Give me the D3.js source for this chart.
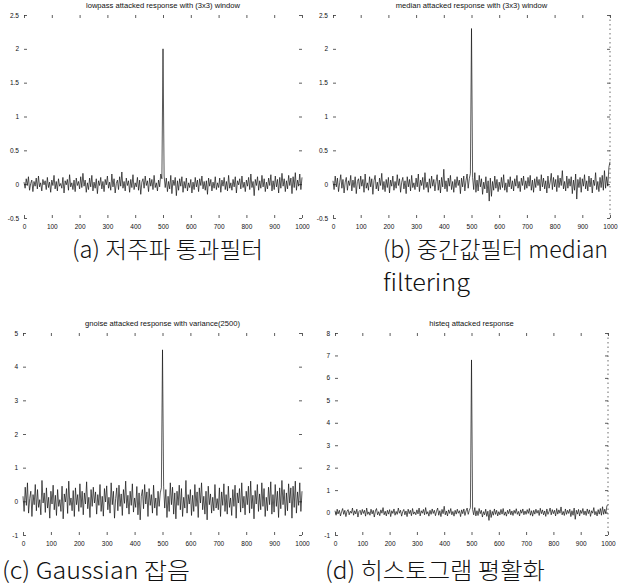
<!DOCTYPE html>
<html>
<head>
<meta charset="utf-8">
<script src="https://cdn.jsdelivr.net/npm/d3@7"></script>
<style>
body { margin: 0; background: #fff; }
svg { display: block; }
.tick-label { font-family: "Liberation Sans", Arial, sans-serif; font-size: 6.5px; fill: #111; }
.title { font-family: "Liberation Sans", Arial, sans-serif; font-size: 7.6px; fill: #111; }
.caption { font-family: "Noto Sans CJK KR", "Liberation Sans Narrow", sans-serif; font-size: 23px; font-weight: 300; fill: #111; }
</style>
</head>
<body>
<script>
var width = 630, height = 586;

// detector response samples, x = 0,4,8,...,1000 (peak at 500)
var lowpassResp = [
.03,-.06,.08,-.02,.11,-.09,.01,.06,-.11,.04,-.03,.09,-.07,.12,-.04,.02,-.1,.07,-.01,.05,-.08,.1,-.05,.03,-.12,
.06,-.02,.13,-.07,.04,-.1,.08,-.03,.01,-.06,.1,-.13,.05,-.01,.07,-.09,.14,-.04,.02,-.08,.06,-.11,.09,-.02,.04,
-.07,.11,-.05,.16,-.03,.06,-.12,.02,-.08,.09,-.04,.13,-.1,.03,-.06,.08,-.14,.05,-.02,.1,-.07,.04,-.11,.07,-.01,
.12,-.06,.03,-.09,.15,-.04,.08,-.13,.01,.06,-.08,.11,-.03,.18,-.06,.04,-.1,.09,-.02,.05,-.12,.07,-.05,.14,-.08,
.02,-.04,.1,-.09,.06,-.15,.03,.08,-.06,.12,-.02,.05,-.11,.09,-.03,.07,-.08,.13,-.05,.02,-.1,.06,-.04,.15,.08,
2.0,.12,-.05,.09,-.11,.04,-.07,.13,-.14,.06,-.02,.1,-.17,.05,-.09,.08,-.03,.11,-.12,.04,-.06,.09,-.1,.02,-.05,
.07,-.13,.03,-.08,.1,-.04,.06,-.11,.08,-.02,.12,-.07,.04,-.09,.05,-.15,.09,-.03,.07,-.1,.03,-.06,.11,-.08,.02,
-.05,.09,-.12,.06,-.03,.1,-.08,.04,-.1,.13,-.06,.02,-.09,.07,-.04,.11,-.13,.05,-.01,.08,-.07,.12,-.05,.03,-.11,
.06,-.03,.1,-.08,.15,-.05,.04,-.17,.07,-.02,.11,-.09,.05,-.06,.13,-.04,.08,-.11,.03,-.07,.09,-.02,.14,-.1,.05,
-.08,.12,-.04,.07,-.13,.1,-.06,.16,-.03,.08,-.11,.05,-.07,.13,-.02,.09,-.14,.11,-.05,.17,-.09,.06,-.03,.15,-.08,
.1];

var medianResp = [
.05,-.08,.12,-.04,.09,-.11,.02,.14,-.06,.07,-.13,.03,.1,-.09,.05,-.02,.13,-.1,.06,-.05,.11,-.14,.04,.08,-.07,
.12,-.03,.07,-.12,.15,-.06,.02,-.09,.11,-.04,.08,-.15,.05,.13,-.07,.03,-.1,.09,-.02,.16,-.08,.04,-.11,.07,-.05,
.1,-.13,.06,-.03,.12,-.09,.04,-.06,.14,-.02,.08,-.12,.03,.1,-.07,.05,-.14,.11,-.04,.07,-.1,.13,-.05,.02,-.08,
.09,-.04,.15,-.11,.06,-.02,.1,-.08,.17,-.05,.03,-.12,.08,-.06,.12,-.03,.07,-.1,.04,.14,-.09,.06,-.13,.1,-.04,
.22,-.07,.05,-.11,.09,-.03,.13,-.08,.04,-.12,.07,-.05,.11,-.02,.06,-.14,.09,-.04,.12,-.1,.05,.15,-.06,.08,.16,
2.3,.1,-.08,.17,-.12,.06,-.1,.13,-.04,.08,-.15,.03,-.07,.11,-.13,.05,-.25,.09,-.18,.04,-.09,.12,-.06,.07,-.11,
.03,-.08,.1,-.05,.14,-.09,.02,-.12,.07,-.04,.11,-.07,.05,-.1,.08,-.03,.13,-.06,.04,-.11,.09,-.02,.12,-.08,.05,
-.06,.1,-.03,.13,-.09,.06,-.12,.08,-.05,.11,-.02,.07,-.1,.14,-.04,.09,-.07,.05,-.13,.12,-.06,.03,.16,-.08,.1,
-.04,.07,-.11,.13,-.05,.09,-.02,.2,-.07,.04,-.1,.12,-.06,.08,-.03,.11,-.14,.06,-.09,.15,-.22,.07,-.05,.1,-.12,
.08,-.03,.14,-.07,.05,-.1,.12,-.04,.09,-.13,.06,-.02,.17,-.08,.04,-.11,.1,-.05,.13,-.09,.2,-.06,.11,-.03,.25,
.33];

var gnoiseResp = [
.15,-.3,.42,-.12,.55,-.35,.08,.3,-.45,.2,-.1,.5,-.28,.35,-.18,.05,-.4,.62,-.05,.25,-.33,.4,-.2,.12,-.5,
.3,-.08,.48,-.25,.18,-.42,.35,-.15,.05,-.3,.45,-.52,.22,-.02,.38,-.36,.6,-.12,.1,-.28,.32,-.45,.4,-.1,.2,
-.3,.52,-.18,.3,-.4,.25,-.08,.58,-.22,.12,-.48,.35,-.15,.42,-.05,.28,-.38,.2,-.12,.5,-.3,.15,-.44,.38,-.02,
.46,-.25,.12,-.35,.55,-.1,.3,-.5,.08,.4,-.28,.48,-.15,.22,-.42,.35,-.06,.6,-.2,.18,-.38,.3,-.12,.52,-.32,
.1,-.18,.44,-.4,.25,-.55,.15,.35,-.22,.5,-.08,.28,-.45,.38,-.12,.2,-.35,.48,-.2,.1,-.42,.3,-.15,.25,.4,
4.5,.45,-.2,.35,-.48,.15,-.3,.55,-.1,.42,-.38,.25,-.52,.3,-.12,.48,-.25,.38,-.45,.12,-.2,.62,-.35,.2,-.08,
.35,-.42,.18,-.3,.5,-.15,.28,-.48,.4,-.05,.55,-.25,.15,-.38,.3,-.55,.45,-.1,.22,-.35,.12,-.28,.5,-.2,.08,
-.25,.4,-.45,.28,-.12,.52,-.3,.2,-.38,.45,-.18,.1,-.42,.35,-.15,.48,-.5,.25,-.05,.38,-.32,.55,-.2,.15,-.4,
.3,-.1,.45,-.35,.6,-.22,.18,-.52,.32,-.08,.5,-.3,.22,-.25,.55,-.15,.38,-.45,.12,-.28,.42,-.1,.58,-.38,.2,
-.32,.5,-.15,.3,-.48,.4,-.22,.62,-.1,.35,-.42,.25,-.28,.52,-.05,.4,-.5,.45,-.18,.6,-.35,.28,-.12,.55,-.3,
.3];

var histeqResp = [
.08,-.12,.15,-.05,.1,-.15,.03,.18,-.08,.1,-.18,.05,.13,-.1,.06,-.03,.2,-.12,.08,-.06,.15,-.2,.05,.1,-.1,
.14,-.04,.1,-.16,.2,-.08,.03,-.12,.15,-.06,.1,-.2,.07,.18,-.1,.04,-.14,.12,-.03,.22,-.1,.06,-.15,.1,-.07,
.13,-.18,.08,-.04,.16,-.12,.05,-.08,.2,-.03,.1,-.16,.04,.14,-.1,.07,-.18,.15,-.05,.1,-.14,.18,-.07,.03,-.1,
.12,-.06,.2,-.15,.08,-.03,.14,-.1,.22,-.07,.04,-.16,.1,-.08,.16,-.04,.1,-.14,.06,.2,-.12,.08,-.18,.14,-.05,
.28,-.1,.07,-.15,.12,-.04,.18,-.1,.05,-.16,.1,-.07,.15,-.03,.08,-.18,.12,-.05,.16,-.13,.07,.2,-.08,.1,.22,
6.8,.14,-.1,.22,-.15,.08,-.13,.18,-.05,.1,-.2,.04,-.1,.15,-.17,.06,-.35,.12,-.22,.05,-.12,.16,-.08,.1,-.15,
.04,-.1,.14,-.07,.18,-.12,.03,-.16,.1,-.05,.15,-.1,.07,-.13,.1,-.04,.17,-.08,.05,-.15,.12,-.03,.16,-.1,.07,
-.08,.13,-.04,.18,-.12,.08,-.16,.1,-.07,.15,-.03,.1,-.13,.19,-.05,.12,-.1,.07,-.17,.16,-.08,.04,.2,-.1,.13,
-.05,.1,-.15,.18,-.07,.12,-.03,.25,-.1,.05,-.13,.16,-.08,.1,-.04,.15,-.18,.08,-.12,.2,-.3,.1,-.07,.14,-.15,
.1,-.04,.18,-.1,.07,-.13,.16,-.05,.12,-.17,.08,-.03,.22,-.1,.05,-.15,.13,-.07,.18,-.12,.26,-.08,.15,-.04,.3,
.35];

var xStep = 4;
var xTicks = [0, 100, 200, 300, 400, 500, 600, 700, 800, 900, 1000];
var yTicksAB = [-0.5, 0, 0.5, 1, 1.5, 2, 2.5];
var yTicksC = [-1, 0, 1, 2, 3, 4, 5];
var yTicksD = [-1, 0, 1, 2, 3, 4, 5, 6, 7, 8];

var titles = [
  "lowpass attacked response with (3x3) window",
  "median attacked response with (3x3) window",
  "gnoise attacked response with variance(2500)",
  "histeq attacked response"
];

var svg = d3.select("body").append("svg")
    .attr("width", width)
    .attr("height", height);

var panels = [
  {data: lowpassResp, yTicks: yTicksAB, title: titles[0], x0: 24, x1: 302, top: 15, bottom: 218, dotted: false},
  {data: medianResp, yTicks: yTicksAB, title: titles[1], x0: 333, x1: 610, top: 15, bottom: 218, dotted: true},
  {data: gnoiseResp, yTicks: yTicksC, title: titles[2], x0: 23, x1: 302, top: 333, bottom: 535, dotted: false},
  {data: histeqResp, yTicks: yTicksD, title: titles[3], x0: 335, x1: 608, top: 333, bottom: 535, dotted: true}
];

function styleLabels(s) {
    s.select(".domain").remove();
    s.selectAll("text").attr("class", "tick-label").attr("font-size", null).attr("font-family", null).attr("fill", null);
}

panels.forEach(function(p) {
    var x = d3.scaleLinear().domain([0, 1000]).range([p.x0, p.x1]);
    var y = d3.scaleLinear().domain(d3.extent(p.yTicks)).range([p.bottom, p.top]);
    var g = svg.append("g");

    // inward ticks on four sides (no axis lines, like the scanned figure)
    g.append("g").attr("transform", "translate(0," + p.top + ")")
        .call(d3.axisTop(x).tickValues(xTicks).tickSize(-3).tickFormat(""))
        .call(styleLabels);
    g.append("g").attr("transform", "translate(0," + p.bottom + ")")
        .call(d3.axisBottom(x).tickValues(xTicks).tickSize(-3).tickPadding(6).tickFormat(String))
        .call(styleLabels);
    g.append("g").attr("transform", "translate(" + p.x0 + ",0)")
        .call(d3.axisLeft(y).tickValues(p.yTicks).tickSize(-3).tickPadding(5).tickFormat(String))
        .call(styleLabels);
    g.append("g").attr("transform", "translate(" + p.x1 + ",0)")
        .call(d3.axisRight(y).tickValues(p.yTicks).tickSize(-3).tickFormat(""))
        .call(styleLabels);
    g.selectAll(".tick line").attr("stroke", "#333").attr("stroke-width", 0.8);

    if (p.dotted) {
        g.append("line")
            .attr("x1", p.x1).attr("x2", p.x1)
            .attr("y1", p.top).attr("y2", p.bottom)
            .attr("stroke", "#444").attr("stroke-width", 0.8)
            .attr("stroke-dasharray", "1.5,3");
    }

    var line = d3.line()
        .x(function(d, i) { return x(i * xStep); })
        .y(function(d) { return y(d); });

    g.append("path")
        .datum(p.data)
        .attr("fill", "none")
        .attr("stroke", "#111")
        .attr("stroke-width", 0.7)
        .attr("d", line);

    g.append("text")
        .attr("class", "title")
        .attr("x", (p.x0 + p.x1) / 2)
        .attr("y", p.top - 7)
        .attr("text-anchor", "middle")
        .text(p.title);
});

var captions = [
  {text: "(a) 저주파 통과필터", x: 72, y: 258, w: 191},
  {text: "(b) 중간값필터 median", x: 383, y: 258, w: 225},
  {text: "filtering", x: 383, y: 291, w: 87},
  {text: "(c) Gaussian 잡음", x: 2, y: 579, w: 188},
  {text: "(d) 히스토그램 평활화", x: 325, y: 579, w: 220}
];

svg.selectAll(".caption")
    .data(captions)
    .enter().append("text")
    .attr("class", "caption")
    .attr("x", function(d) { return d.x; })
    .attr("y", function(d) { return d.y; })
    .attr("textLength", function(d) { return d.w; })
    .attr("lengthAdjust", "spacingAndGlyphs")
    .text(function(d) { return d.text; });
</script>
</body>
</html>
